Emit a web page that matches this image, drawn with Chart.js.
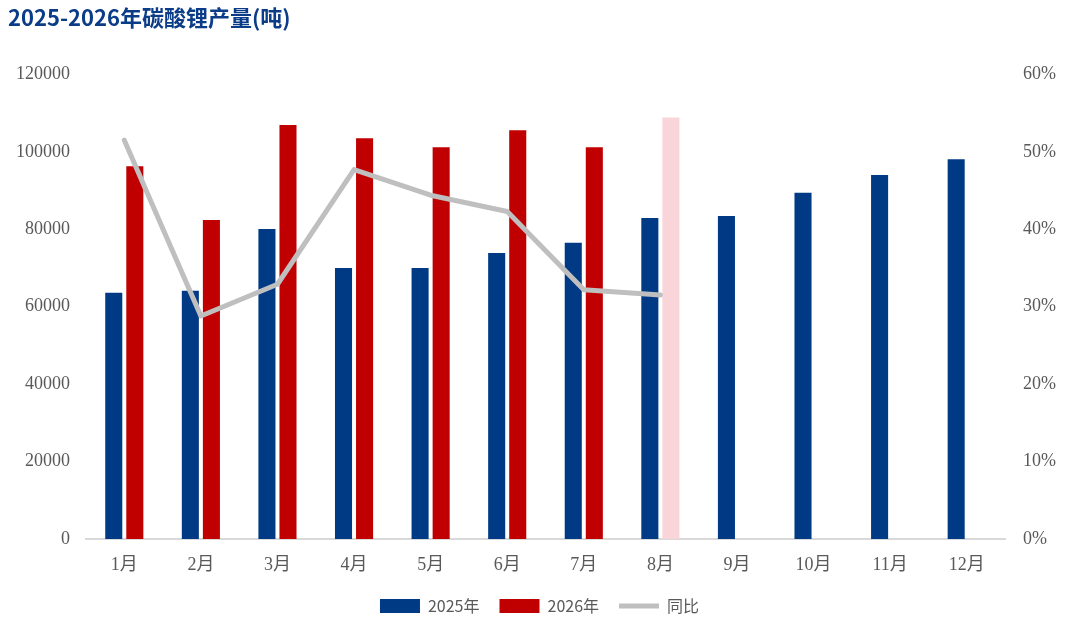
<!DOCTYPE html>
<html>
<head>
<meta charset="utf-8">
<script src="https://cdn.jsdelivr.net/npm/chart.js@4/dist/chart.umd.min.js"></script>
<style>
    html, body { margin: 0; padding: 0; background: #ffffff; }
    #wrap { width: 1071px; height: 632px; }
</style>
</head>
<body>
<div id="wrap"><canvas id="chart"></canvas></div>
<script>
const months = ["1月", "2月", "3月", "4月", "5月", "6月", "7月", "8月", "9月", "10月", "11月", "12月"];
const output2025 = [63600, 64100, 80100, 70000, 70000, 73900, 76500, 82900, 83400, 89400, 94000, 98100];
const output2026 = [96300, 82400, 106900, 103500, 101200, 105600, 101200, 108900, null, null, null, null];
const yoyPct = [51.5, 28.8, 32.9, 47.7, 44.4, 42.3, 32.2, 31.5, null, null, null, null];

const BLUE = "#003A84";
const RED = "#C00000";
const PINK = "#F9D5DA";
const GREY = "#BFBFBF";
const TICK = "#595959";
const SERIF = "'Times New Roman', 'Liberation Serif', 'Noto Sans CJK SC', serif";

// 8月 of 2026 is drawn in light pink
const colors2026 = output2026.map((v, i) => (i === 7 ? PINK : RED));

const CHART = document.getElementById("chart").getContext("2d");

let comboChart = new Chart(CHART, {
    data: {
        labels: months,
        datasets: [
            {
                type: "bar",
                label: "2025年",
                data: output2025,
                backgroundColor: BLUE,
                yAxisID: "y",
                order: 1,
                pointStyle: "rect",
                categoryPercentage: 0.55,
                barPercentage: 0.81,
            },
            {
                type: "bar",
                label: "2026年",
                data: output2026,
                backgroundColor: colors2026,
                yAxisID: "y",
                order: 1,
                pointStyle: "rect",
                categoryPercentage: 0.55,
                barPercentage: 0.81,
            },
            {
                type: "line",
                label: "同比",
                data: yoyPct,
                borderColor: GREY,
                backgroundColor: GREY,
                borderWidth: 5,
                borderCapStyle: "round",
                borderJoinStyle: "round",
                tension: 0,
                pointRadius: 0,
                pointHoverRadius: 0,
                pointStyle: "line",
                yAxisID: "y1",
                order: 0,
            },
        ],
    },
    options: {
        responsive: true,
        maintainAspectRatio: false,
        animation: false,
        layout: { padding: { left: 8, right: 0, top: 0, bottom: 8 } },
        plugins: {
            title: {
                display: true,
                text: "2025-2026年碳酸锂产量(吨)",
                align: "start",
                color: "#0B3C88",
                font: { family: "'Noto Sans CJK SC', sans-serif", size: 22, weight: "bold" },
                padding: { top: 4, bottom: 44 },
            },
            legend: {
                position: "bottom",
                labels: {
                    usePointStyle: true,
                    pointStyleWidth: 40,
                    boxHeight: 14,
                    color: TICK,
                    padding: 20,
                    font: { family: "'Noto Sans CJK SC', sans-serif", size: 16 },
                    sort: (a, b) => a.datasetIndex - b.datasetIndex,
                },
            },
            tooltip: { enabled: false },
        },
        scales: {
            x: {
                grid: { display: false, drawTicks: false },
                border: { display: true, color: "#D9D9D9", width: 2 },
                ticks: { color: TICK, font: { family: SERIF, size: 18 }, padding: 15 },
                afterFit: function (scale) { scale.height = 39; },
            },
            y: {
                position: "left",
                min: 0,
                max: 120000,
                grid: { display: false, drawTicks: false },
                border: { display: false },
                ticks: {
                    stepSize: 20000,
                    color: TICK,
                    font: { family: SERIF, size: 18 },
                    padding: 16,
                    callback: function (v) { return String(v); },
                },
                afterFit: function (scale) { scale.width = 78; },
            },
            y1: {
                position: "right",
                min: 0,
                max: 60,
                grid: { display: false, drawTicks: false },
                border: { display: false },
                ticks: {
                    stepSize: 10,
                    color: TICK,
                    font: { family: SERIF, size: 18 },
                    padding: 18,
                    callback: function (v) { return v + "%"; },
                },
                afterFit: function (scale) { scale.width = 66; },
            },
        },
    },
});
</script>
</body>
</html>
